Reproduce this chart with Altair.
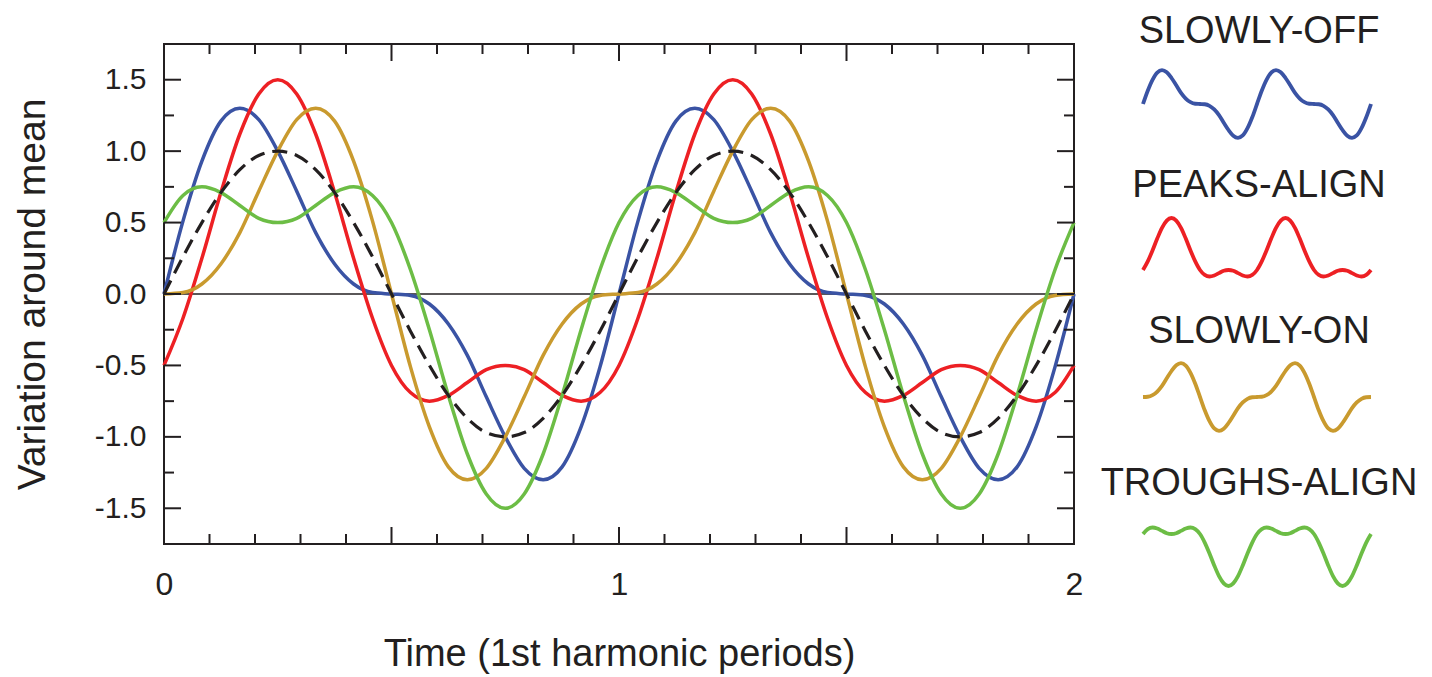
import altair as alt
import pandas as pd

# ---------------- data ----------------
t = [0.0, 0.0417, 0.0833, 0.125, 0.1667, 0.2083, 0.25, 0.2917, 0.3333, 0.375, 0.4167, 0.4583,
     0.5, 0.5417, 0.5833, 0.625, 0.6667, 0.7083, 0.75, 0.7917, 0.8333, 0.875, 0.9167, 0.9583,
     1.0, 1.0417, 1.0833, 1.125, 1.1667, 1.2083, 1.25, 1.2917, 1.3333, 1.375, 1.4167, 1.4583,
     1.5, 1.5417, 1.5833, 1.625, 1.6667, 1.7083, 1.75, 1.7917, 1.8333, 1.875, 1.9167, 1.9583, 2.0]

fundamental = [0.0, 0.26, 0.5, 0.71, 0.87, 0.97, 1.0, 0.97, 0.87, 0.71, 0.5, 0.26,
               0.0, -0.26, -0.5, -0.71, -0.87, -0.97, -1.0, -0.97, -0.87, -0.71, -0.5, -0.26,
               0.0, 0.26, 0.5, 0.71, 0.87, 0.97, 1.0, 0.97, 0.87, 0.71, 0.5, 0.26,
               0.0, -0.26, -0.5, -0.71, -0.87, -0.97, -1.0, -0.97, -0.87, -0.71, -0.5, -0.26, 0.0]

slowly_off = [0.0, 0.51, 0.93, 1.21, 1.30, 1.22, 1.0, 0.72, 0.43, 0.21, 0.07, 0.01,
              0.0, -0.01, -0.07, -0.21, -0.43, -0.72, -1.0, -1.22, -1.30, -1.21, -0.93, -0.51,
              0.0, 0.51, 0.93, 1.21, 1.30, 1.22, 1.0, 0.72, 0.43, 0.21, 0.07, 0.01,
              0.0, -0.01, -0.07, -0.21, -0.43, -0.72, -1.0, -1.22, -1.30, -1.21, -0.93, -0.51, 0.0]

peaks_align = [-0.5, -0.17, 0.25, 0.71, 1.12, 1.40, 1.5, 1.40, 1.12, 0.71, 0.25, -0.17,
               -0.5, -0.69, -0.75, -0.71, -0.62, -0.53, -0.5, -0.53, -0.62, -0.71, -0.75, -0.69,
               -0.5, -0.17, 0.25, 0.71, 1.12, 1.40, 1.5, 1.40, 1.12, 0.71, 0.25, -0.17,
               -0.5, -0.69, -0.75, -0.71, -0.62, -0.53, -0.5, -0.53, -0.62, -0.71, -0.75, -0.69, -0.5]

slowly_on = [0.0, 0.01, 0.07, 0.21, 0.43, 0.72, 1.0, 1.22, 1.30, 1.21, 0.93, 0.51,
             0.0, -0.51, -0.93, -1.21, -1.30, -1.22, -1.0, -0.72, -0.43, -0.21, -0.07, -0.01,
             0.0, 0.01, 0.07, 0.21, 0.43, 0.72, 1.0, 1.22, 1.30, 1.21, 0.93, 0.51,
             0.0, -0.51, -0.93, -1.21, -1.30, -1.22, -1.0, -0.72, -0.43, -0.21, -0.07, -0.01, 0.0]

troughs_align = [0.5, 0.69, 0.75, 0.71, 0.62, 0.53, 0.5, 0.53, 0.62, 0.71, 0.75, 0.69,
                 0.5, 0.17, -0.25, -0.71, -1.12, -1.40, -1.5, -1.40, -1.12, -0.71, -0.25, 0.17,
                 0.5, 0.69, 0.75, 0.71, 0.62, 0.53, 0.5, 0.53, 0.62, 0.71, 0.75, 0.69,
                 0.5, 0.17, -0.25, -0.71, -1.12, -1.40, -1.5, -1.40, -1.12, -0.71, -0.25, 0.17, 0.5]

series_names = ["SLOWLY-OFF", "PEAKS-ALIGN", "SLOWLY-ON", "TROUGHS-ALIGN"]
series_colors = ["#3a53a4", "#ed2024", "#c99a2e", "#6cbd45"]

x_tick_labels = [0, 1, 2]
x_ticks_major = [0.5, 1.0, 1.5]
x_ticks_minor = [0.1, 0.2, 0.3, 0.4, 0.6, 0.7, 0.8, 0.9, 1.1, 1.2, 1.3, 1.4, 1.6, 1.7, 1.8, 1.9]
y_ticks_major = [-1.5, -1.0, -0.5, 0.0, 0.5, 1.0, 1.5]
y_ticks_minor = [-1.25, -0.75, -0.25, 0.25, 0.75, 1.25]
zero_line = [0.0]

# ---------------- tables ----------------
rows = []
for name, vals in zip(series_names, [slowly_off, peaks_align, slowly_on, troughs_align]):
    for ti, vi in zip(t, vals):
        rows.append({"t": ti, "v": vi, "series": name})
df = pd.DataFrame(rows)
df_fund = pd.DataFrame({"t": t, "v": fundamental})

FONT = "Liberation Sans"
INK = "#231f20"
W, H = 910, 500
MAJ, MIN = 17, 10

x_scale = alt.Scale(domain=[0, 2], nice=False, zero=False)
y_scale = alt.Scale(domain=[-1.75, 1.75], nice=False, zero=False)

x_axis = alt.Axis(values=x_tick_labels, ticks=False, domain=False, grid=False,
                  labelExpr="format(datum.value, 'd')",
                  labelFontSize=32, labelPadding=25, labelFont=FONT, labelColor=INK,
                  labelFlush=False, labelOverlap=False, labelBound=False,
                  title="Time (1st harmonic periods)", titleFontSize=38, titleFont=FONT,
                  titleFontWeight="normal", titleColor=INK, titlePadding=35)
y_axis = alt.Axis(values=y_ticks_major, ticks=False, domain=False, grid=False,
                  labelFontSize=30, labelPadding=18, labelFont=FONT, labelColor=INK,
                  labelFlush=False, labelOverlap=False,
                  labelExpr="datum.value < 0 ? '-' + format(-datum.value, '.1f') : format(datum.value, '.1f')",
                  title="Variation around mean", titleFontSize=39, titleFont=FONT,
                  titleFontWeight="normal", titleColor=INK, titlePadding=42)

XA = lambda f: alt.X(f, scale=x_scale, axis=x_axis)
YA = lambda f: alt.Y(f, scale=y_scale, axis=y_axis)

zero = alt.Chart(pd.DataFrame({"z": zero_line})).mark_rule(color=INK, strokeWidth=1.5).encode(y=YA("z:Q"))

colored = alt.Chart(df).mark_line(strokeWidth=3.5, interpolate="monotone").encode(
    x=XA("t:Q"), y=YA("v:Q"),
    color=alt.Color("series:N", scale=alt.Scale(domain=series_names, range=series_colors), legend=None),
)
dashed = alt.Chart(df_fund).mark_line(strokeWidth=3.2, color=INK, strokeDash=[15, 8],
                                      interpolate="monotone").encode(x=XA("t:Q"), y=YA("v:Q"))


def xticks(vals, length):
    d = pd.DataFrame({"p": vals})
    bottom = alt.Chart(d).mark_rule(color=INK, strokeWidth=2).encode(
        x=XA("p:Q"), y=alt.value(H), y2=alt.value(H - length))
    top = alt.Chart(d).mark_rule(color=INK, strokeWidth=2).encode(
        x=XA("p:Q"), y=alt.value(0), y2=alt.value(length))
    return [bottom, top]


def yticks(vals, length):
    d = pd.DataFrame({"p": vals})
    left = alt.Chart(d).mark_rule(color=INK, strokeWidth=2).encode(
        y=YA("p:Q"), x=alt.value(0), x2=alt.value(length))
    right = alt.Chart(d).mark_rule(color=INK, strokeWidth=2).encode(
        y=YA("p:Q"), x=alt.value(W), x2=alt.value(W - length))
    return [left, right]


main = alt.layer(
    zero, colored, dashed,
    *xticks(x_ticks_major, MAJ), *xticks(x_ticks_minor, MIN),
    *yticks(y_ticks_major, MAJ), *yticks(y_ticks_minor, MIN),
)

# ---------------- legend: names and small wave icons ----------------
icon_x = alt.Scale(domain=[0, 2], range=[979, 1207], nice=False, zero=False)
icon_y_ranges = [[99, 21], [252, 174], [392, 314], [542, 464]]
label_baselines = [-1, 153, 299, 451]
label_center = 1095

legend_layers = []
for name, col, rng in zip(series_names, series_colors, icon_y_ranges):
    legend_layers.append(
        alt.Chart(df).transform_filter(alt.datum.series == name)
        .mark_line(color=col, strokeWidth=3.8, interpolate="monotone")
        .encode(x=alt.X("t:Q", scale=icon_x, axis=None),
                y=alt.Y("v:Q", scale=alt.Scale(domain=[-1.5, 1.5], range=rng, nice=False, zero=False),
                        axis=None))
    )
for name, yb in zip(series_names, label_baselines):
    legend_layers.append(
        alt.Chart(pd.DataFrame({"label": [name]})).mark_text(
            font=FONT, fontSize=38, color=INK, align="center", baseline="alphabetic")
        .encode(text="label:N", x=alt.value(label_center), y=alt.value(yb))
    )
legend = alt.layer(*legend_layers).resolve_scale(y="independent")

chart = (
    alt.layer(main, legend)
    .resolve_scale(x="independent", y="independent")
    .properties(width=W, height=H, background="white")
    .configure(font=FONT)
    .configure_view(stroke=INK, strokeWidth=2)
)

chart.save("out.html", embed_options={"renderer": "svg", "actions": False})
